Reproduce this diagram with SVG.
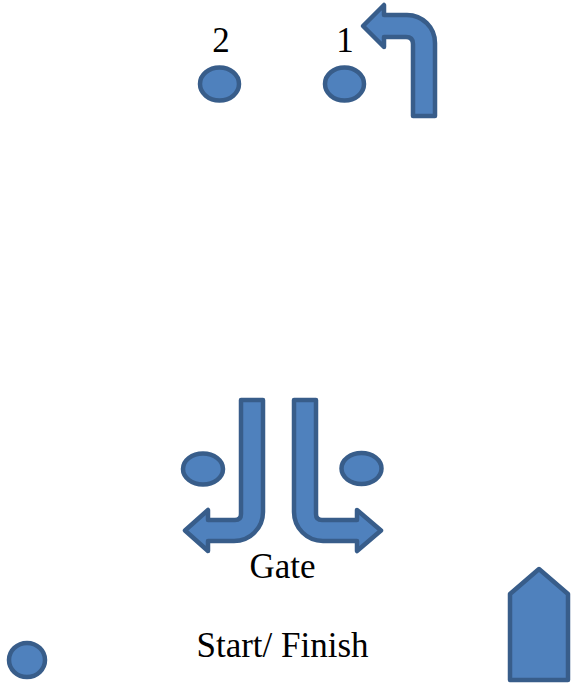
<svg xmlns="http://www.w3.org/2000/svg" width="571" height="684" viewBox="0 0 571 684">
<style>
.shp{fill:#4F81BD;stroke:#385D8A;stroke-width:4.5;stroke-linejoin:round}
</style>
<rect width="571" height="684" fill="#fff"/>
<g font-family="Liberation Serif, Tinos, Times New Roman, DejaVu Serif, serif" font-size="35" fill="#000" text-anchor="middle">
<g id="mark2"><ellipse class="shp" cx="219.5" cy="84" rx="19.5" ry="16.5"/><text x="221" y="52">2</text></g>
<g id="mark1"><ellipse class="shp" cx="344.5" cy="84" rx="19.5" ry="16.5"/><text x="345" y="52">1</text></g>
<g id="gate-left-buoy"><ellipse class="shp" cx="203" cy="469" rx="20" ry="15.5"/></g>
<g id="gate-right-buoy"><ellipse class="shp" cx="361.5" cy="468.5" rx="20" ry="15.5"/></g>
<g id="start-buoy"><ellipse class="shp" cx="27" cy="660" rx="18" ry="17"/></g>
<g id="start-boat"><path class="shp" d="M510,680 L510,594 L539,569 L568,594 L568,680 Z"/></g>
<g id="gate-label"><text x="282.5" y="578">Gate</text></g>
<g id="start-label"><text x="282.5" y="657">Start/ Finish</text></g>
</g>
<g id="connectors">
<path class="shp" d="M413,116 L413,44 Q413,37 406,37 L384,37 L384,47 L363,26 L384,5 L384,15 L407,15 A28,28 0 0 1 435,43 L435,116 Z"/>
<path class="shp" d="M241,400 L263,400 L263,512 A29,29 0 0 1 234,541 L208,541 L208,551 L185,530.5 L208,510 L208,520 L235,520 Q241,520 241,514 Z"/>
<path class="shp" d="M294,400 L316,400 L316,514 Q316,520 322,520 L357,520 L357,510 L381,530.5 L357,551 L357,541 L323,541 A29,29 0 0 1 294,512 Z"/>
</g>
</svg>
